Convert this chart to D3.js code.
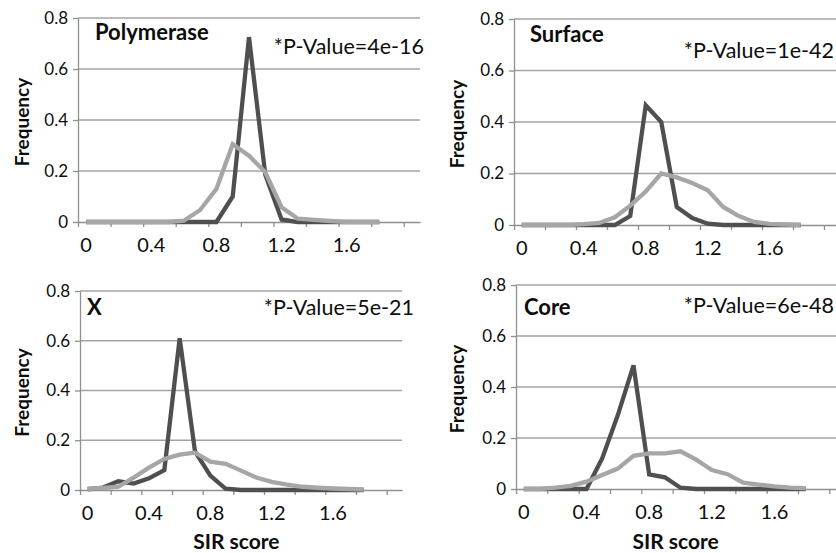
<!DOCTYPE html>
<html>
<head>
<meta charset="utf-8">
<script src="https://cdn.jsdelivr.net/npm/d3@7"></script>
<style>
  body { margin: 0; background: #fff; }
  svg { display: block; font-family: Lato, "Open Sans", sans-serif; }
</style>
</head>
<body>
<div id="container"></div>
<script>
// SIR score categories (bins) on the x axis
const categories = [0, 0.1, 0.2, 0.3, 0.4, 0.5, 0.6, 0.7, 0.8, 0.9, 1.0,
  1.1, 1.2, 1.3, 1.4, 1.5, 1.6, 1.7, 1.8, 1.9, 2.0];
const xLabels = [0, 0.4, 0.8, 1.2, 1.6];
const yTicks = [0, 0.2, 0.4, 0.6, 0.8];

// frequency per bin, dark and light series
const polymeraseDark = [0, 0, 0, 0, 0, 0, 0, 0, 0, 0.1, 0.725, 0.185, 0.01, 0, 0, 0, 0, 0, 0];
const polymeraseLight = [0, 0, 0, 0, 0, 0, 0.005, 0.047, 0.13, 0.305, 0.26, 0.195, 0.058, 0.013, 0.008, 0.004, 0, 0, 0];

const surfaceDark = [0, 0, 0, 0, 0, 0, 0, 0.035, 0.465, 0.4, 0.07, 0.027, 0.005, 0, 0, 0, 0, 0, 0];
const surfaceLight = [0, 0, 0, 0, 0.003, 0.008, 0.03, 0.075, 0.13, 0.2, 0.185, 0.163, 0.135, 0.07, 0.035, 0.012, 0.004, 0.002, 0];

const xDark = [0.003, 0.01, 0.035, 0.026, 0.047, 0.08, 0.61, 0.155, 0.058, 0.005, 0, 0, 0, 0, 0, 0, 0, 0, 0];
const xLight = [0.005, 0.008, 0.013, 0.05, 0.09, 0.125, 0.142, 0.15, 0.114, 0.105, 0.078, 0.05, 0.033, 0.022, 0.013, 0.009, 0.006, 0.004, 0.002];

const coreDark = [0, 0, 0, 0, 0, 0.12, 0.29, 0.485, 0.057, 0.046, 0.005, 0, 0, 0, 0, 0, 0, 0, 0];
const coreLight = [0, 0, 0.005, 0.012, 0.029, 0.055, 0.08, 0.13, 0.14, 0.14, 0.148, 0.115, 0.074, 0.058, 0.025, 0.017, 0.01, 0.005, 0.003];

const panels = [
  { title: "Polymerase", pValue: "*P-Value=4e-16", dark: polymeraseDark, light: polymeraseLight,
    left: 78, right: 420, top: 18, bottom: 222, titleX: 95, titleY: 39.5, pvX: 424, pvY: 54, freqX: 29, xTitle: false },
  { title: "Surface", pValue: "*P-Value=1e-42", dark: surfaceDark, light: surfaceLight,
    left: 514, right: 839.5, top: 19, bottom: 225, titleX: 530, titleY: 41.5, pvX: 834, pvY: 58, freqX: 464, xTitle: false },
  { title: "X", pValue: "*P-Value=5e-21", dark: xDark, light: xLight,
    left: 80, right: 402, top: 291, bottom: 490, titleX: 87, titleY: 315, pvX: 414, pvY: 315, freqX: 29, xTitle: true },
  { title: "Core", pValue: "*P-Value=6e-48", dark: coreDark, light: coreLight,
    left: 516, right: 845, top: 285, bottom: 489, titleX: 524, titleY: 315, pvX: 834, pvY: 313, freqX: 464, xTitle: true },
];

const svg = d3
  .select("#container")
  .append("svg")
  .attr("width", 836)
  .attr("height", 553);

const gridColor = "#a3a3a3";
const axisColor = "#8f8f8f";
const textColor = "#0d0d0d";

panels.forEach((p) => {
  const g = svg.append("g");

  const x = d3.scaleBand().domain(categories).range([p.left, p.right]).padding(0);
  const xTick = d3.scaleLinear().domain([0, categories.length]).range([p.left, p.right]);
  const y = d3.scaleLinear().domain([0, 0.8]).range([p.bottom, p.top]);
  const cx = (c) => x(c) + x.bandwidth() / 2;

  // gridlines
  g.selectAll(".grid")
    .data(yTicks.filter((d) => d > 0))
    .enter()
    .append("line")
    .attr("x1", p.left)
    .attr("x2", p.right)
    .attr("y1", (d) => y(d))
    .attr("y2", (d) => y(d))
    .style("stroke", gridColor)
    .style("stroke-width", 1.3);

  // y axis
  const yAxis = g
    .append("g")
    .attr("transform", `translate(${p.left},0)`)
    .call(
      d3.axisLeft(y).tickValues(yTicks).tickSize(5).tickSizeOuter(0).tickPadding(5)
        .tickFormat((d) => String(d))
    );
  yAxis.selectAll("path, line").style("stroke", axisColor).style("stroke-width", 1.3);
  yAxis.selectAll("text").style("font-size", "17px").style("fill", textColor).style("font-family", "Lato");

  // x axis (tick marks between bins)
  const xAxis = g
    .append("g")
    .attr("transform", `translate(0,${p.bottom})`)
    .call(
      d3.axisBottom(xTick).tickValues(d3.range(0, categories.length, 2)).tickSize(5).tickSizeOuter(0)
        .tickFormat("")
    );
  xAxis.selectAll("path, line").style("stroke", axisColor).style("stroke-width", 1.3);

  g.selectAll(".xlab")
    .data(xLabels)
    .enter()
    .append("text")
    .attr("x", (d) => cx(d))
    .attr("y", p.bottom + 30)
    .attr("text-anchor", "middle")
    .style("font-size", "20px")
    .style("fill", textColor)
    .text((d) => String(d));

  // series
  const line = d3
    .line()
    .x((d, i) => cx(categories[i]))
    .y((d) => y(d));

  g.append("path")
    .datum(p.dark)
    .attr("d", line)
    .style("fill", "none")
    .style("stroke", "#4f4f4f")
    .style("stroke-width", 4.3);

  g.append("path")
    .datum(p.light)
    .attr("d", line)
    .style("fill", "none")
    .style("stroke", "#a6a6a6")
    .style("stroke-width", 4.3);

  // labels
  g.append("text")
    .attr("x", p.titleX)
    .attr("y", p.titleY)
    .style("font-size", "22px")
    .style("font-weight", "bold")
    .style("fill", textColor)
    .text(p.title);

  g.append("text")
    .attr("x", p.pvX)
    .attr("y", p.pvY)
    .attr("text-anchor", "end")
    .style("font-size", "21.5px")
    .style("fill", textColor)
    .text(p.pValue);

  g.append("text")
    .attr("transform", `translate(${p.freqX},${(p.top + p.bottom) / 2 + 2}) rotate(-90)`)
    .attr("text-anchor", "middle")
    .style("font-size", "19px")
    .style("font-weight", "bold")
    .style("fill", textColor)
    .text("Frequency");

  if (p.xTitle) {
    g.append("text")
      .attr("x", (p.left + xTick(categories.length - 1)) / 2 + 3)
      .attr("y", 549)
      .attr("text-anchor", "middle")
      .style("font-size", "21px")
      .style("font-weight", "bold")
      .style("fill", textColor)
      .text("SIR score");
  }
});
</script>
</body>
</html>
